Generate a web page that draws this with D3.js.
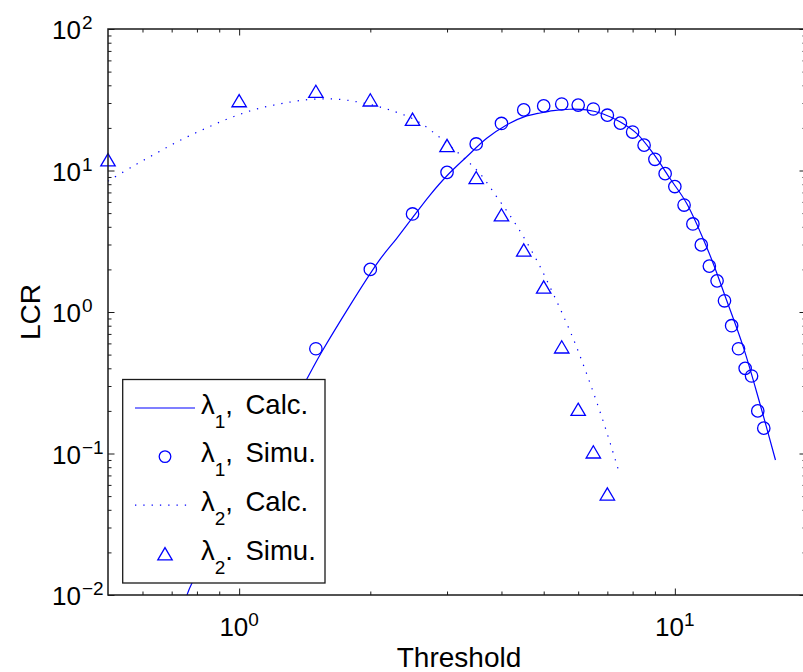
<!DOCTYPE html>
<html><head><meta charset="utf-8">
<script src="https://cdn.jsdelivr.net/npm/d3@7"></script>
<style>
body{margin:0;background:#fff}
svg{display:block}
text{font-family:"Liberation Sans",Arial,Helvetica,sans-serif;fill:#000}
</style>
</head><body>
<svg id="chart" width="803" height="672"></svg>
<script>
// ---- data ----
const lambda1SimX = [1.5,2,2.5,3,3.5,4,4.5,5,5.5,6,6.5,7,7.5,8,8.5,9,9.5,10,10.5,11,11.5,12,12.5,13,13.5,14,14.5,15,15.5,16];
const lambda1SimY = [0.55,2.0,4.93,9.7,15.4,21.5,26.8,28.6,29.5,29.0,27.2,24.6,21.6,18.7,15.1,12.0,9.5,7.7,5.70,4.19,2.98,2.11,1.66,1.20,0.80,0.55,0.40,0.353,0.20,0.151];

const lambda2SimX = [0.5,1,1.5,2,2.5,3,3.5,4,4.5,5,5.5,6,6.5,7];
const lambda2SimY = [11.9,31.1,36.2,31.5,23.0,15.0,8.9,4.85,2.74,1.50,0.566,0.205,0.1025,0.0517];

const lambda1CalcX = [0.759,0.779,1.43,1.548,2.087,2.30,2.51,2.742,2.995,3.328,3.70,4.11,4.57,4.85,5.26,5.74,6.27,6.85,7.48,8.17,8.92,9.74,10.64,11.99,13.14,14.35,15.67,17.02];
const lambda1CalcY = [0.0100,0.0121,0.336,0.524,2.27,3.32,4.72,6.71,9.14,12.5,16.9,21.0,24.3,25.3,26.5,27.1,26.8,25.1,22.1,18.3,13.2,8.81,5.87,2.60,1.216,0.569,0.2263,0.090];

const lambda2CalcX = [0.5,0.567,0.644,0.731,0.833,0.952,1.092,1.259,1.455,1.681,1.945,2.232,2.547,2.875,3.219,3.565,3.89,4.227,4.56,4.895,5.215,5.54,5.87,6.18,6.495,6.81,7.12,7.43];
const lambda2CalcY = [8.4,10.6,13.2,16.3,19.7,23.5,27.1,29.8,31.8,31.9,29.8,26.6,22.6,17.3,12.9,9.55,6.60,4.59,3.15,2.12,1.42,0.948,0.627,0.415,0.272,0.178,0.116,0.0755];

const xMajor = [1,10];
const xMinor = [0.6,0.7,0.8,0.9,2,3,4,5,6,7,8,9,20];
const yMajor = [0.01,0.1,1,10,100];
const yMinor = [0.02,0.03,0.04,0.05,0.06,0.07,0.08,0.09,0.2,0.3,0.4,0.5,0.6,0.7,0.8,0.9,2,3,4,5,6,7,8,9,20,30,40,50,60,70,80,90];
const xTickLabels = [{v:1,exp:"0"},{v:10,exp:"1"}];
const yTickLabels = [{v:0.01,exp:"\u22122"},{v:0.1,exp:"\u22121"},{v:1,exp:"0"},{v:10,exp:"1"},{v:100,exp:"2"}];
const legendItems = [
  {sub:"1", sep:",", name:"Calc.", kind:"solid"},
  {sub:"1", sep:",", name:"Simu.", kind:"circle"},
  {sub:"2", sep:",", name:"Calc.", kind:"dotted"},
  {sub:"2", sep:".", name:"Simu.", kind:"triangle"}
];
const xLabel = "Threshold";
const yLabel = "LCR";

// ---- layout ----
const L = 108, T = 29, R = 806, B = 595;
const blue = "#0000ff";
const svg = d3.select("#chart");
const x = d3.scaleLog().domain([0.5,20]).range([L,R]);
const y = d3.scaleLog().domain([0.01,100]).range([B,T]);

svg.append("defs").append("clipPath").attr("id","clip")
  .append("rect").attr("x",L).attr("y",T).attr("width",R-L).attr("height",B-T);

// ---- curves ----
const line = d3.line().x(d=>x(d[0])).y(d=>y(d[1])).curve(d3.curveCatmullRom.alpha(0.5));
const c1 = lambda1CalcX.map((v,i)=>[v,lambda1CalcY[i]]);
const c2 = lambda2CalcX.map((v,i)=>[v,lambda2CalcY[i]]);
const plot = svg.append("g").attr("clip-path","url(#clip)");
plot.append("path").attr("d",line(c1)).attr("fill","none").attr("stroke",blue).attr("stroke-width",1.2);
plot.append("path").attr("d",line(c2)).attr("fill","none").attr("stroke",blue).attr("stroke-width",1.2)
  .attr("stroke-dasharray","1.3 7");

// ---- markers ----
const triPath = "M0,-6.2L7.2,6L-7.2,6Z";
svg.append("g").selectAll("circle").data(lambda1SimX.map((v,i)=>[v,lambda1SimY[i]])).join("circle")
  .attr("cx",d=>x(d[0])).attr("cy",d=>y(d[1])).attr("r",6.2)
  .attr("fill","none").attr("stroke",blue).attr("stroke-width",1.3);
svg.append("g").selectAll("path").data(lambda2SimX.map((v,i)=>[v,lambda2SimY[i]])).join("path")
  .attr("transform",d=>`translate(${x(d[0])},${y(d[1])})`).attr("d",triPath)
  .attr("fill","none").attr("stroke",blue).attr("stroke-width",1.3);

// ---- axes ----
const axColor = "#1a1a1a";
function styleAxis(g){
  g.select(".domain").remove();
  g.selectAll(".tick line").attr("stroke",axColor).attr("stroke-width",1);
  g.selectAll(".tick text").remove();
}
const majLen = 6.5, minLen = 3.5;
[[xMajor,majLen],[xMinor,minLen]].forEach(([vals,len])=>{
  svg.append("g").attr("transform",`translate(0,${B})`)
    .call(d3.axisBottom(x).tickValues(vals).tickSizeInner(-len).tickSizeOuter(0)).call(styleAxis);
  svg.append("g").attr("transform",`translate(0,${T})`)
    .call(d3.axisTop(x).tickValues(vals).tickSizeInner(-len).tickSizeOuter(0)).call(styleAxis);
});
[[yMajor,majLen],[yMinor,minLen]].forEach(([vals,len])=>{
  svg.append("g").attr("transform",`translate(${L},0)`)
    .call(d3.axisLeft(y).tickValues(vals).tickSizeInner(-len).tickSizeOuter(0)).call(styleAxis);
  svg.append("g").attr("transform",`translate(${R},0)`)
    .call(d3.axisRight(y).tickValues(vals).tickSizeInner(-len).tickSizeOuter(0)).call(styleAxis);
});
svg.append("rect").attr("x",L).attr("y",T).attr("width",R-L).attr("height",B-T)
  .attr("fill","none").attr("stroke",axColor).attr("stroke-width",1.5);

// ---- tick labels ----
const baseSize = 26, supSize = 19;
xTickLabels.forEach(t=>{
  const tx = svg.append("text").attr("x",x(t.v)).attr("y",636).attr("text-anchor","middle").attr("font-size",baseSize);
  tx.append("tspan").text("10");
  tx.append("tspan").attr("dy",-10).attr("font-size",supSize).text(t.exp);
});
yTickLabels.forEach(t=>{
  svg.append("text").attr("x",81).attr("y",y(t.v)+10).attr("text-anchor","end").attr("font-size",baseSize).text("10");
  svg.append("text").attr("x",82).attr("y",y(t.v)).attr("font-size",supSize).text(t.exp);
});

// ---- axis labels ----
svg.append("text").attr("x",459).attr("y",667).attr("text-anchor","middle").attr("font-size",28).text(xLabel);
svg.append("text").attr("transform",`translate(40,${(T+B)/2}) rotate(-90)`).attr("text-anchor","middle").attr("font-size",28).text(yLabel);

// ---- legend ----
const lg = svg.append("g");
lg.append("rect").attr("x",122.7).attr("y",379.5).attr("width",202.3).attr("height",203.5)
  .attr("fill","#fff").attr("stroke",axColor).attr("stroke-width",1.3);
legendItems.forEach((it,i)=>{
  const cy = 408 + 48.6*i;
  if(it.kind==="solid"){
    lg.append("line").attr("x1",135).attr("x2",195).attr("y1",cy).attr("y2",cy).attr("stroke",blue).attr("stroke-width",1.2);
  } else if(it.kind==="dotted"){
    lg.append("line").attr("x1",135).attr("x2",192).attr("y1",cy).attr("y2",cy).attr("stroke",blue).attr("stroke-width",1.2).attr("stroke-dasharray","1.3 7");
  } else if(it.kind==="circle"){
    lg.append("circle").attr("cx",165).attr("cy",cy).attr("r",5.8).attr("fill","none").attr("stroke",blue).attr("stroke-width",1.3);
  } else {
    lg.append("path").attr("transform",`translate(165,${cy})`).attr("d",triPath).attr("fill","none").attr("stroke",blue).attr("stroke-width",1.3);
  }
  const t = lg.append("text").attr("x",201).attr("y",cy+5.8).attr("font-size",27.5);
  t.append("tspan").text("\u03bb");
  t.append("tspan").attr("dy",14).attr("font-size",19).text(it.sub);
  t.append("tspan").attr("dy",-14).text(it.sep);
  t.append("tspan").attr("x",245.5).text(it.name);
});
</script>
</body></html>
